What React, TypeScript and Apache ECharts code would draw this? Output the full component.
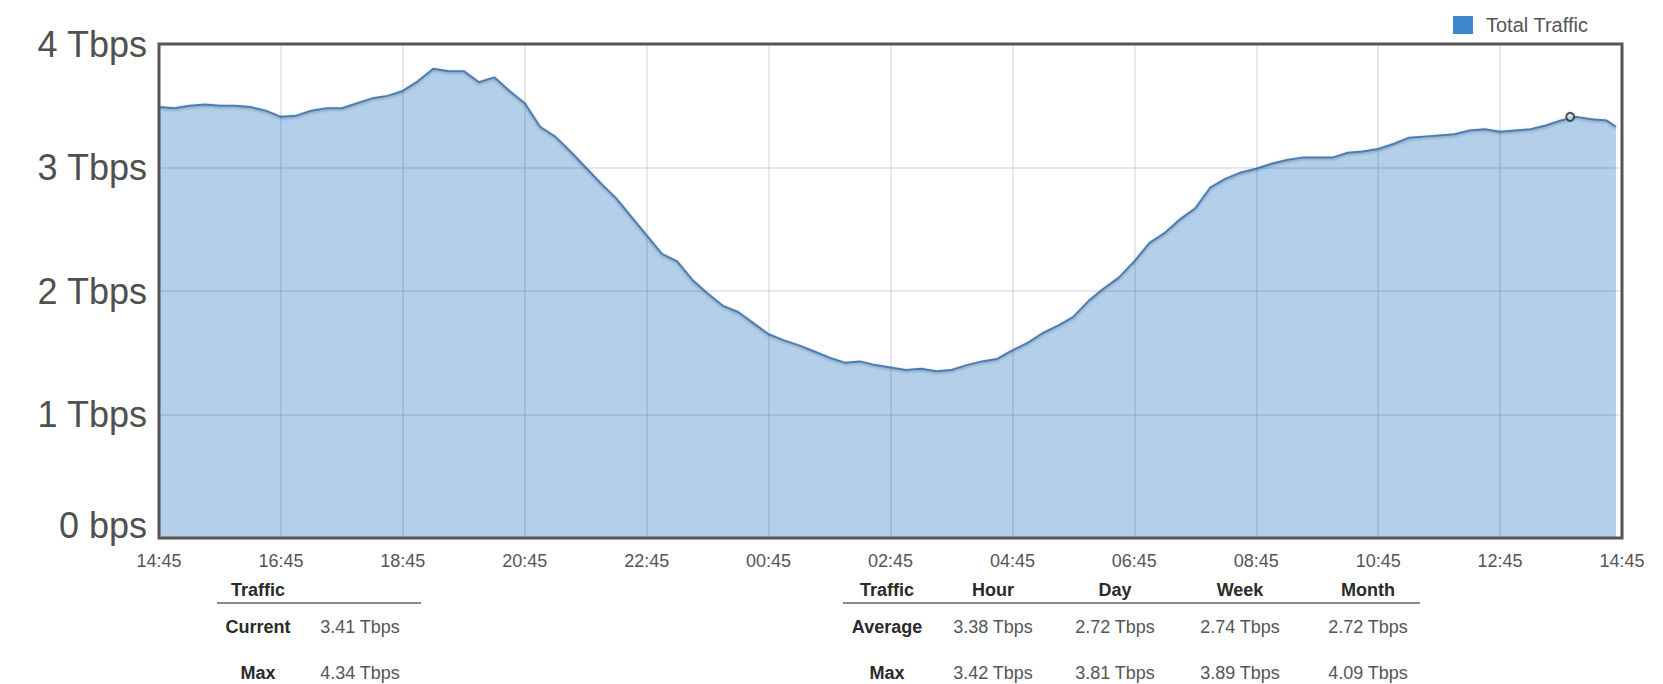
import React, { useEffect, useRef } from "react";
import * as echarts from "echarts";

// ---- data ----
const seriesName = "Total Traffic";
const xTickLabels = ["14:45", "16:45", "18:45", "20:45", "22:45", "00:45", "02:45", "04:45", "06:45", "08:45", "10:45", "12:45", "14:45"];
const yTickLabels = ["0 bps", "1 Tbps", "2 Tbps", "3 Tbps", "4 Tbps"];
const sampleStepMinutes = 15;
// Tbps, one value every 15 minutes starting 14:45
const totalTraffic = [
  3.49, 3.48, 3.50, 3.51, 3.50, 3.50, 3.49, 3.46,
  3.41, 3.42, 3.46, 3.48, 3.48, 3.52, 3.56, 3.58,
  3.62, 3.70, 3.80, 3.78, 3.78, 3.69, 3.73, 3.62,
  3.52, 3.33, 3.25, 3.13, 3.00, 2.87, 2.75, 2.60,
  2.45, 2.30, 2.24, 2.09, 1.98, 1.88, 1.83, 1.74,
  1.65, 1.60, 1.56, 1.51, 1.46, 1.42, 1.43, 1.40,
  1.38, 1.36, 1.37, 1.35, 1.36, 1.40, 1.43, 1.45,
  1.52, 1.58, 1.66, 1.72, 1.79, 1.92, 2.02, 2.11,
  2.24, 2.39, 2.47, 2.58, 2.67, 2.84, 2.91, 2.96,
  2.99, 3.03, 3.06, 3.08, 3.08, 3.08, 3.12, 3.13,
  3.15, 3.19, 3.24, 3.25, 3.26, 3.27, 3.30, 3.31,
  3.29, 3.30, 3.31, 3.34, 3.38, 3.41, 3.39, 3.38,
];
const lastSampleMinute = 1434;
const lastSampleValue = 3.33;
const currentMarker = [1389, 3.41];

const summaryHeaders = ["Traffic"];
const summaryRows = [
  ["Current", "3.41 Tbps"],
  ["Max", "4.34 Tbps"],
];
const statsHeaders = ["Traffic", "Hour", "Day", "Week", "Month"];
const statsRows = [
  ["Average", "3.38 Tbps", "2.72 Tbps", "2.74 Tbps", "2.72 Tbps"],
  ["Max", "3.42 Tbps", "3.81 Tbps", "3.89 Tbps", "4.09 Tbps"],
];

const FONT = "'Liberation Sans', Arial, Helvetica, sans-serif";

function tableGraphics(headers: string[], rows: string[][], colX: number[], lineX: [number, number]) {
  const headerY = 590;
  const lineY = 603;
  const rowY = [627, 673];
  const els: any[] = [];
  headers.forEach((h, i) => {
    els.push({
      type: "text",
      x: colX[i],
      y: headerY,
      style: {
        text: h,
        font: `bold 18px ${FONT}`,
        fill: "#2a2a2a",
        align: "center",
        verticalAlign: "middle",
        textAlign: "center",
        textVerticalAlign: "middle",
      },
    });
  });
  els.push({
    type: "line",
    shape: { x1: lineX[0], y1: lineY, x2: lineX[1], y2: lineY },
    style: { stroke: "#8a8a8a", lineWidth: 2 },
  });
  rows.forEach((r, ri) => {
    r.forEach((cell, ci) => {
      els.push({
        type: "text",
        x: colX[ci],
        y: rowY[ri],
        style: {
          text: cell,
          font: `${ci === 0 ? "bold " : ""}18px ${FONT}`,
          fill: ci === 0 ? "#2a2a2a" : "#555555",
          align: "center",
          verticalAlign: "middle",
          textAlign: "center",
          textVerticalAlign: "middle",
        },
      });
    });
  });
  return els;
}

export default function App() {
  const ref = useRef<HTMLDivElement>(null);
  useEffect(() => {
    document.body.style.margin = "0";
    if (!ref.current) return;
    const chart = echarts.init(ref.current, undefined, { renderer: "svg" });
    const data: number[][] = totalTraffic.map((v, i) => [i * sampleStepMinutes, v]);
    data.push([lastSampleMinute, lastSampleValue]);

    const graphics = [
      ...tableGraphics(summaryHeaders, summaryRows, [258, 360], [217, 421]),
      ...tableGraphics(statsHeaders, statsRows, [887, 993, 1115, 1240, 1368], [843, 1420]),
    ];

    chart.setOption({
      animation: false,
      backgroundColor: "#ffffff",
      textStyle: { fontFamily: FONT },
      legend: {
        left: 1448,
        top: 10,
        itemWidth: 20,
        itemHeight: 18,
        icon: "rect",
        textStyle: { fontSize: 20, color: "#555555", fontFamily: FONT, padding: [0, 0, 0, 8] },
        data: [{ name: seriesName, icon: "rect", itemStyle: { color: "#3f87cd" } }],
      },
      grid: {
        left: 159,
        right: 41,
        top: 44,
        bottom: 146,
        show: true,
        borderColor: "#555555",
        borderWidth: 3,
        backgroundColor: "transparent",
        z: 4,
      },
      xAxis: {
        type: "value",
        min: 0,
        max: 1440,
        interval: 120,
        z: 3,
        axisLine: { show: false },
        axisTick: { show: false },
        splitLine: { show: true, lineStyle: { color: "rgba(60,80,115,0.17)", width: 1.5 } },
        axisLabel: {
          formatter: (v: number) => xTickLabels[Math.round(v / 120)] ?? "",
          fontSize: 18,
          lineHeight: 18,
          color: "#555555",
          fontFamily: FONT,
          margin: 14,
          showMinLabel: true,
          showMaxLabel: true,
        },
      },
      yAxis: {
        type: "value",
        min: 0,
        max: 4,
        interval: 1,
        z: 3,
        axisLine: { show: false },
        axisTick: { show: false },
        splitLine: { show: true, lineStyle: { color: "rgba(60,80,115,0.17)", width: 1.5 } },
        axisLabel: {
          formatter: (v: number) => yTickLabels[Math.round(v)] ?? "",
          fontSize: 36,
          lineHeight: 26,
          color: "#505050",
          fontFamily: FONT,
          margin: 12,
          verticalAlignMinLabel: "bottom",
        },
      },
      series: [
        {
          name: seriesName,
          type: "line",
          data,
          symbol: "none",
          showSymbol: false,
          z: 1,
          itemStyle: { color: "#3f87cd" },
          lineStyle: {
            color: "#4a7db3",
            width: 2,
            shadowColor: "rgba(0,0,0,0.3)",
            shadowBlur: 3,
            shadowOffsetY: 1,
          },
          areaStyle: { color: "#b3cfea", opacity: 1 },
        },
        {
          type: "scatter",
          data: [currentMarker],
          symbol: "circle",
          symbolSize: 8,
          z: 6,
          silent: true,
          itemStyle: { color: "#c9dcef", borderColor: "#1f2a36", borderWidth: 2 },
        },
      ],
      graphic: graphics,
    });
    return () => chart.dispose();
  }, []);
  return <div ref={ref} style={{ width: 1663, height: 684 }} />;
}
